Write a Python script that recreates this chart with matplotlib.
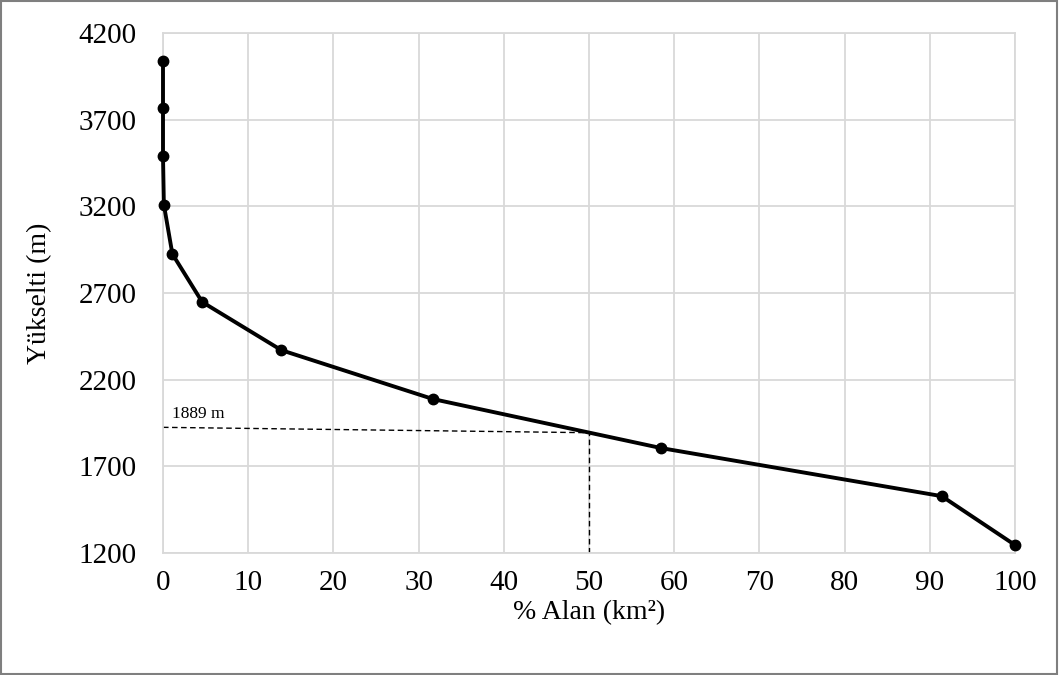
import matplotlib.pyplot as plt

plt.rcParams['font.family'] = ['Liberation Serif', 'DejaVu Serif']

# hypsometric curve values
alan = [0, 0, 0, 0.1, 1.1, 4.6, 13.9, 31.7, 58.5, 91.4, 100]
yukselti = [4040, 3770, 3490, 3210, 2925, 2648, 2370, 2088, 1805, 1528, 1246]

medyan_x = 50
medyan_y = 1894
etiket_y = 1925
x_ticks = list(range(0, 101, 10))
y_ticks = list(range(1200, 4201, 500))

fig = plt.figure(figsize=(10.59, 6.75), dpi=100)
ax = fig.add_axes([163 / 1059, 1 - 553 / 675, (1015 - 163) / 1059, (553 - 33) / 675])

ax.plot(alan, yukselti, color='black', lw=2.8, marker='o', ms=7.5, zorder=3, clip_on=False)

# median elevation guide lines
ax.plot([0, medyan_x], [etiket_y, medyan_y], color='black', lw=1, ls=(0, (4, 2.5)), zorder=2)
ax.plot([medyan_x, medyan_x], [1200, medyan_y], color='black', lw=1, ls=(0, (4, 2.5)), zorder=2)
ax.text(1, 1955, '1889 m', fontsize=12.5, ha='left', va='bottom')

ax.set_xlim(0, 100)
ax.set_ylim(1200, 4200)
ax.set_xticks(x_ticks)
ax.set_yticks(y_ticks)
ax.grid(True, color='#d9d9d9', lw=1.3)
ax.set_axisbelow(True)
for s in ax.spines.values():
    s.set_color('#d9d9d9')
    s.set_linewidth(1.3)
ax.tick_params(length=0, labelsize=21)
ax.tick_params(axis='y', pad=19)
ax.tick_params(axis='x', pad=12)

ax.set_xlabel('% Alan (km²)', fontsize=20, labelpad=3)
ax.set_ylabel('Yükselti (m)', fontsize=20, labelpad=19)

fig.patches.append(plt.Rectangle((0.001, 0.001), 0.997, 0.997, transform=fig.transFigure,
                                 fill=False, edgecolor='#7f7f7f', lw=1.5))

fig.savefig('out.png', dpi=100)
